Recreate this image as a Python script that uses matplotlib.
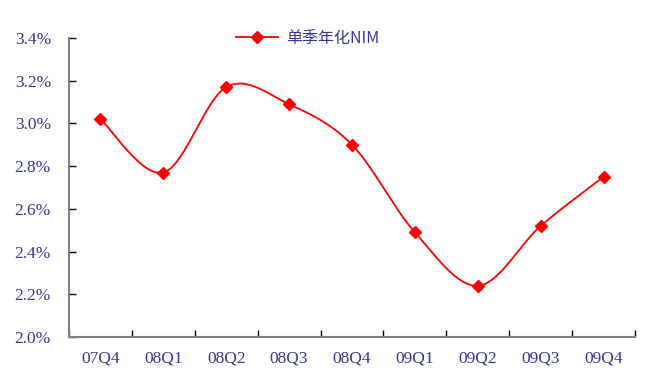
import numpy as np
import matplotlib
matplotlib.use("Agg")
import matplotlib.pyplot as plt
from matplotlib.ticker import FixedLocator, FuncFormatter

quarters = ["07Q4", "08Q1", "08Q2", "08Q3", "08Q4", "09Q1", "09Q2", "09Q3", "09Q4"]
nim = [3.02, 2.77, 3.17, 3.09, 2.90, 2.49, 2.24, 2.52, 2.75]  # %
series_name = "单季年化NIM"

text_color = "#36369a"
red = "#ff0000"


def smooth(xs, ys, n=30):
    """Catmull-Rom curve through the points (Excel-style smoothed line)."""
    xs = np.asarray(xs, float)
    ys = np.asarray(ys, float)
    px = np.concatenate([[xs[0]], xs, [xs[-1]]])
    py = np.concatenate([[ys[0]], ys, [ys[-1]]])
    out_x, out_y = [], []
    t = np.linspace(0, 1, n, endpoint=False)
    for i in range(1, len(px) - 2):
        p0, p1, p2, p3 = [np.array([px[j], py[j]]) for j in (i - 1, i, i + 1, i + 2)]
        m1 = (p2 - p0) / 2.0
        m2 = (p3 - p1) / 2.0
        h00 = 2 * t**3 - 3 * t**2 + 1
        h10 = t**3 - 2 * t**2 + t
        h01 = -2 * t**3 + 3 * t**2
        h11 = t**3 - t**2
        pts = (np.outer(h00, p1) + np.outer(h10, m1) + np.outer(h01, p2) + np.outer(h11, m2))
        out_x.extend(pts[:, 0]); out_y.extend(pts[:, 1])
    out_x.append(xs[-1]); out_y.append(ys[-1])
    return np.array(out_x), np.array(out_y)


fig = plt.figure(figsize=(6.65, 3.76), dpi=100)
ax = fig.add_axes([69 / 665, 1 - 337 / 376, (635 - 69) / 665, (337 - 38) / 376])

x = np.arange(len(quarters))
sx, sy = smooth(x, nim)
ax.plot(sx, sy, color=red, lw=1.3, zorder=2)
ax.plot(x, nim, ls="none", marker="D", ms=6, color=red, zorder=3)

ax.set_xlim(-0.5, len(quarters) - 0.5)
ax.set_ylim(2.0, 3.4)

ax.xaxis.set_major_locator(FixedLocator(x))
ax.set_xticklabels(quarters)
ax.xaxis.set_minor_locator(FixedLocator(np.arange(len(quarters) + 1) - 0.5))
ax.tick_params(axis="x", which="major", length=0, pad=10)
ax.tick_params(axis="x", which="minor", direction="in", length=5, width=1, color="black")

ax.yaxis.set_major_locator(FixedLocator(np.arange(2.0, 3.41, 0.2)))
ax.yaxis.set_major_formatter(FuncFormatter(lambda v, p: f"{v:.1f}%"))
ax.tick_params(axis="y", direction="in", length=5, width=1, color="black", pad=13)

for lab in ax.get_xticklabels() + ax.get_yticklabels():
    lab.set_family(["Liberation Serif", "DejaVu Serif"])
    lab.set_fontsize(12.5)
    lab.set_color(text_color)

for s in ("top", "right"):
    ax.spines[s].set_visible(False)
for s in ("left", "bottom"):
    ax.spines[s].set_color("#808080")
    ax.spines[s].set_linewidth(1.5)

leg = ax.legend([plt.Line2D([], [], color=red, lw=1.3, marker="D", ms=6)], [series_name],
                loc="upper left", bbox_to_anchor=(0.27, 1.075), frameon=False,
                handlelength=2.6, handletextpad=0.55,
                prop={"family": ["Noto Sans CJK SC", "DejaVu Sans"], "size": 11.5})
for t in leg.get_texts():
    t.set_color(text_color)

fig.savefig("out.png", dpi=100)
